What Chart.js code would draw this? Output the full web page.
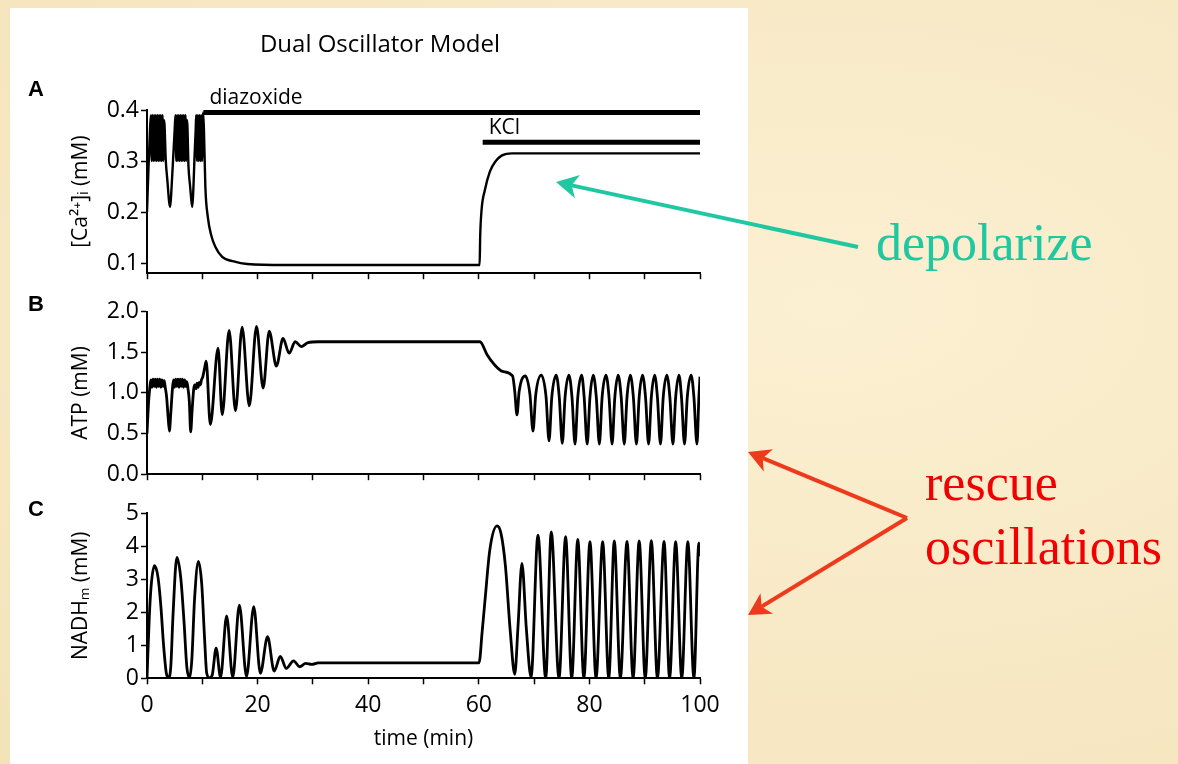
<!DOCTYPE html>
<html>
<head>
<meta charset="utf-8">
<title>Dual Oscillator Model</title>
<script src="https://cdn.jsdelivr.net/npm/chart.js@4.4.1/dist/chart.umd.min.js"></script>
<style>
    body { margin: 0; width: 1178px; height: 764px; overflow: hidden; position: relative;
           background: radial-gradient(ellipse at 70% 40%, #fbf0d2 0%, #f7e7c2 70%, #f4e2b8 100%); }
    #sheet { position: absolute; left: 10px; top: 8px; width: 738px; height: 756px; background: #fff; }
    canvas { position: absolute; left: 0; }
    svg { position: absolute; left: 0; top: 0; }
</style>
</head>
<body>
<div id="sheet"></div>
<canvas id="caChart" width="760" height="210" style="top:80px;width:760px;height:210px"></canvas>
<canvas id="atpChart" width="760" height="200" style="top:290px;width:760px;height:200px"></canvas>
<canvas id="nadhChart" width="760" height="274" style="top:490px;width:760px;height:274px"></canvas>
<svg id="notes" width="1178" height="764">
    <text x="380" y="52" text-anchor="middle" font-family="Open Sans" font-size="24">Dual Oscillator Model</text>
    <text x="28" y="96" font-family="Liberation Sans" font-weight="bold" font-size="22">A</text>
    <text x="28" y="311" font-family="Liberation Sans" font-weight="bold" font-size="22">B</text>
    <text x="28" y="516" font-family="Liberation Sans" font-weight="bold" font-size="22">C</text>
    <text x="876" y="260" font-family="Liberation Serif" font-size="52" fill="#1fc8a0">depolarize</text>
    <text x="925" y="500" font-family="Liberation Serif" font-size="52" fill="#f00000">rescue</text>
    <text x="925" y="564" font-family="Liberation Serif" font-size="52" fill="#f00000">oscillations</text>
</svg>
<script>
// ---- data (time in min, concentrations in mM) ----
const caTrace = [
    [0, 0.20], [0.25, 0.28], [0.5, 0.35],
    [0.7, 0.39], [0.85, 0.30], [1.0, 0.39], [1.15, 0.30], [1.3, 0.39], [1.45, 0.30], [1.6, 0.39], [1.75, 0.30],
    [1.9, 0.39], [2.05, 0.30], [2.2, 0.39], [2.35, 0.30], [2.5, 0.39], [2.65, 0.30], [2.8, 0.39], [2.95, 0.30], [3.1, 0.38],
    [3.4, 0.30], [3.7, 0.26], [4.0, 0.22], [4.2, 0.21], [4.45, 0.25], [4.75, 0.31], [5.0, 0.36],
    [5.15, 0.39], [5.3, 0.30], [5.45, 0.39], [5.6, 0.30], [5.75, 0.39], [5.9, 0.30], [6.05, 0.39], [6.2, 0.30],
    [6.35, 0.39], [6.5, 0.30], [6.65, 0.39], [6.8, 0.30], [6.95, 0.39], [7.1, 0.30], [7.25, 0.38],
    [7.5, 0.29], [7.8, 0.25], [8.05, 0.22], [8.2, 0.21], [8.4, 0.25], [8.6, 0.31], [8.8, 0.36],
    [8.9, 0.39], [9.05, 0.30], [9.2, 0.39], [9.35, 0.30], [9.5, 0.39], [9.65, 0.30], [9.8, 0.39], [9.95, 0.30], [10.15, 0.395],
    [10.3, 0.36], [10.55, 0.25], [11.0, 0.19], [11.6, 0.155], [12.35, 0.132], [13.6, 0.112], [15.7, 0.103], [18.1, 0.098],
    [25, 0.096], [60.15, 0.096],
    [60.25, 0.152], [60.5, 0.204], [61.1, 0.243], [62, 0.279], [63, 0.299], [64.2, 0.311], [66, 0.315], [100, 0.315]
];

const atpTrace = [
    [0, 0.50], [0.3, 0.90], [0.5, 1.06],
    [0.7, 1.16], [0.9, 1.07], [1.1, 1.17], [1.3, 1.08], [1.5, 1.17], [1.7, 1.07], [1.9, 1.17], [2.1, 1.08],
    [2.3, 1.17], [2.5, 1.07], [2.7, 1.16], [2.9, 1.08], [3.1, 1.15], [3.3, 1.07],
    [3.55, 0.95], [3.8, 0.72], [4.05, 0.53], [4.3, 0.75], [4.6, 1.05],
    [4.8, 1.16], [5.0, 1.07], [5.2, 1.17], [5.4, 1.08], [5.6, 1.17], [5.8, 1.07], [6.0, 1.17], [6.2, 1.08],
    [6.4, 1.17], [6.6, 1.07], [6.8, 1.16], [7.0, 1.08], [7.2, 1.14], [7.4, 1.06],
    [7.65, 0.90], [7.9, 0.52], [8.15, 0.78], [8.45, 1.05],
    [8.65, 1.10], [8.85, 1.05], [9.05, 1.12], [9.25, 1.07], [9.45, 1.13], [9.65, 1.10], [9.85, 1.16],
    [10.1, 1.20], [10.4, 1.30], [10.7, 1.39],
    [11.45, 0.61], [12.85, 1.55], [13.6, 0.73], [14.85, 1.77], [16.0, 0.78], [17.2, 1.81], [18.5, 0.84],
    [19.8, 1.82], [21.0, 1.06], [22.1, 1.76], [23.4, 1.33], [24.6, 1.67], [25.7, 1.49], [26.8, 1.63],
    [27.9, 1.57], [29.1, 1.62], [31, 1.63], [60.2, 1.63],
    [61.5, 1.47], [62.8, 1.35], [64.3, 1.265], [66.1, 1.21],
    [66.5, 1.02], [66.9, 0.73], [67.3, 1.02], [68.4, 1.21], [69.25, 0.98],
    [69.8, 0.53], [70.3, 0.98], [71.3, 1.22], [72.15, 0.96],
    [72.7, 0.41], [73.2, 0.95], [74.0, 1.22], [74.55, 0.95],
    [75.1, 0.38], [75.6, 0.95], [76.3, 1.22], [76.85, 0.95],
    [77.4, 0.37], [77.9, 0.95], [78.6, 1.22], [79.05, 0.95],
    [79.6, 0.37], [80.1, 0.95], [80.7, 1.22], [81.25, 0.95],
    [81.8, 0.37], [82.3, 0.95], [83.0, 1.22], [83.55, 0.95],
    [84.1, 0.37], [84.6, 0.95], [85.2, 1.22], [85.75, 0.95],
    [86.3, 0.37], [86.8, 0.95], [87.4, 1.22], [87.95, 0.95],
    [88.5, 0.37], [89.0, 0.95], [89.6, 1.22], [90.15, 0.95],
    [90.7, 0.37], [91.2, 0.95], [91.8, 1.22], [92.3, 0.95],
    [92.85, 0.37], [93.35, 0.95], [94.0, 1.22], [94.55, 0.95],
    [95.1, 0.37], [95.6, 0.95], [96.2, 1.22], [96.65, 0.95],
    [97.2, 0.37], [97.7, 0.95], [98.4, 1.22], [98.9, 0.95],
    [99.45, 0.37], [99.8, 0.95], [100, 1.2]
];

const nadhTrace = [
    [0, 0], [0.4, 1.8], [0.75, 2.8], [1.35, 3.41], [2.0, 3.05], [2.5, 2.2], [3.0, 1.0], [3.5, 0.15], [3.9, 0.02],
    [4.3, 0.35], [4.7, 1.9], [5.4, 3.66], [6.1, 3.05], [6.7, 1.7], [7.2, 0.35], [7.7, 0.02],
    [8.1, 0.55], [8.6, 2.4], [9.3, 3.54], [9.9, 2.85], [10.4, 1.25], [10.8, 0.15], [11.3, 0.01], [11.8, 0.1],
    [12.5, 0.91], [13.3, 0.03], [14.4, 1.89], [15.5, 0.03], [16.7, 2.22], [18.0, 0.05], [19.3, 2.17],
    [20.5, 0.15], [21.8, 1.26], [23.0, 0.22], [24.1, 0.66], [25.2, 0.30], [26.5, 0.53], [27.6, 0.35],
    [28.7, 0.45], [29.8, 0.42], [31, 0.47], [60.05, 0.47],
    [60.6, 1.4], [61.1, 2.32], [62.0, 3.9], [63.3, 4.62], [64.0, 4.4], [64.8, 3.43], [65.7, 1.4], [66.5, 0.12],
    [67.1, 1.6], [67.8, 3.48], [68.6, 1.5], [69.45, 0.03], [70.7, 4.34], [72.1, 0.0], [73.1, 4.44], [74.5, 0.0],
    [75.7, 4.29], [76.8, 0.0], [77.9, 4.21], [79.0, 0.0], [80.1, 4.14], [81.2, 0.0], [82.4, 4.14], [83.5, 0.0],
    [84.5, 4.16], [85.6, 0.0], [86.8, 4.15], [87.9, 0.0], [89.0, 4.16], [90.1, 0.0], [91.2, 4.17], [92.3, 0.0],
    [93.5, 4.15], [94.5, 0.0], [95.6, 4.14], [96.7, 0.0], [97.8, 4.14], [98.9, 0.0], [99.8, 4.1], [100, 3.7]
];

// drug application bars in panel A
const drugNames = ['diazoxide', 'KCl'];
const drugStart = [10.2, 60.7];
const drugLevel = [0.395, 0.337];

// axes
const timeTicks = [0, 10, 20, 30, 40, 50, 60, 70, 80, 90, 100];
const timeLabels = ['0', '', '20', '', '40', '', '60', '', '80', '', '100'];
const caTicks = [0.1, 0.15, 0.2, 0.25, 0.3, 0.35, 0.4];
const caLabels = ['0.1', '', '0.2', '', '0.3', '', '0.4'];
const atpTicks = [0, 0.25, 0.5, 0.75, 1.0, 1.25, 1.5, 1.75, 2.0];
const atpLabels = ['0.0', '', '0.5', '', '1.0', '', '1.5', '', '2.0'];
const nadhTicks = [0, 0.5, 1, 1.5, 2, 2.5, 3, 3.5, 4, 4.5, 5];
const nadhLabels = ['0', '', '1', '', '2', '', '3', '', '4', '', '5'];

const FONT = '"Open Sans", sans-serif';
const toXY = pairs => pairs.map(p => ({ x: p[0], y: p[1] }));

const drugLabelPlugin = {
    id: 'drugLabels',
    afterDatasetsDraw(chart) {
        if (chart.canvas.id !== 'caChart') return;
        const { ctx, scales: { x, y } } = chart;
        ctx.save();
        ctx.fillStyle = '#000';
        ctx.textBaseline = 'alphabetic';
        ctx.font = '21px ' + FONT;
        drugNames.forEach((name, i) => {
            ctx.fillText(name, x.getPixelForValue(drugStart[i]) + 6, y.getPixelForValue(drugLevel[i]) - (i === 0 ? 9 : 8));
        });
        ctx.restore();
    }
};

function axisGrid() {
    return { drawOnChartArea: false, drawTicks: true, tickLength: 6, tickColor: '#000', tickWidth: 1.5 };
}

function createPanel(id, datasets, y, showTime, pad, xHeight) {
    const ctx = document.getElementById(id).getContext('2d');
    return new Chart(ctx, {
        type: 'line',
        data: { datasets },
        options: {
            responsive: false,
            animation: false,
            events: [],
            layout: { padding: pad },
            elements: { point: { radius: 0 } },
            plugins: { legend: { display: false }, tooltip: { enabled: false } },
            scales: {
                x: {
                    type: 'linear', min: 0, max: 100,
                    afterBuildTicks: s => { s.ticks = timeTicks.map(v => ({ value: v })); },
                    afterFit: s => { s.height = xHeight; },
                    border: { color: '#000', width: 2 },
                    grid: axisGrid(),
                    ticks: {
                        display: showTime, autoSkip: false, maxRotation: 0, padding: 7,
                        color: '#000', font: { family: FONT, size: 23 },
                        callback: (v, i) => timeLabels[i]
                    },
                    title: {
                        display: showTime, text: 'time (min)', color: '#000',
                        font: { family: FONT, size: 21 }, padding: { top: 0, bottom: 7 }
                    }
                },
                y: {
                    min: y.min, max: y.max,
                    afterBuildTicks: s => { s.ticks = y.ticks.map(v => ({ value: v })); },
                    afterFit: s => { s.width = 79; },
                    border: { color: '#000', width: 2 },
                    grid: axisGrid(),
                    ticks: {
                        padding: 2, color: '#000', font: { family: FONT, size: 23 },
                        callback: (v, i) => y.labels[i]
                    },
                    title: {
                        display: true, text: y.title, color: '#000',
                        font: { family: FONT, size: 21 }, padding: 0
                    }
                }
            }
        },
        plugins: [drugLabelPlugin]
    });
}

function trace(pairs, width) {
    return {
        data: toXY(pairs), borderColor: '#000', borderWidth: width,
        cubicInterpolationMode: 'monotone', fill: false
    };
}

const drugBars = drugNames.map((name, i) => ({
    label: name,
    data: [{ x: drugStart[i], y: drugLevel[i] }, { x: 100, y: drugLevel[i] }],
    borderColor: '#000', borderWidth: 5, borderCapStyle: 'butt', tension: 0
}));

createPanel('caChart', [trace(caTrace, 2.4), ...drugBars],
    { min: 0.08, max: 0.4, ticks: caTicks, labels: caLabels, title: '[Ca²⁺]ᵢ (mM)' },
    false, { top: 30, bottom: 6.8, left: 68, right: 60 }, 10);

createPanel('atpChart', [trace(atpTrace, 2.8)],
    { min: 0, max: 2, ticks: atpTicks, labels: atpLabels, title: 'ATP (mM)' },
    false, { top: 21.7, bottom: 5, left: 68, right: 60 }, 10);

createPanel('nadhChart', [trace(nadhTrace, 2.8)],
    { min: 0, max: 5, ticks: nadhTicks, labels: nadhLabels, title: 'NADHₘ (mM)' },
    true, { top: 23.3, bottom: 5.7, left: 68, right: 60 }, 80);

// annotation arrows (page coordinates)
const arrows = [
    { from: [858, 247], to: [556, 182], color: '#1fc8a0' },
    { from: [907, 518], to: [748, 452], color: '#ee3a1c' },
    { from: [907, 518], to: [748, 615], color: '#ee3a1c' }
];
const svg = document.getElementById('notes');
const NS = 'http://www.w3.org/2000/svg';
arrows.forEach(a => {
    const dx = a.to[0] - a.from[0], dy = a.to[1] - a.from[1];
    const len = Math.hypot(dx, dy), ux = dx / len, uy = dy / len;
    const headLen = 22, half = 12;
    const bx = a.to[0] - ux * headLen, by = a.to[1] - uy * headLen;
    const line = document.createElementNS(NS, 'line');
    line.setAttribute('x1', a.from[0]); line.setAttribute('y1', a.from[1]);
    line.setAttribute('x2', bx + ux * 6); line.setAttribute('y2', by + uy * 6);
    line.setAttribute('stroke', a.color); line.setAttribute('stroke-width', 4);
    svg.appendChild(line);
    const head = document.createElementNS(NS, 'polygon');
    const pts = [
        [a.to[0], a.to[1]],
        [bx - uy * half, by + ux * half],
        [bx + ux * 6, by + uy * 6],
        [bx + uy * half, by - ux * half]
    ];
    head.setAttribute('points', pts.map(p => p.join(',')).join(' '));
    head.setAttribute('fill', a.color);
    svg.appendChild(head);
});
</script>
</body>
</html>
